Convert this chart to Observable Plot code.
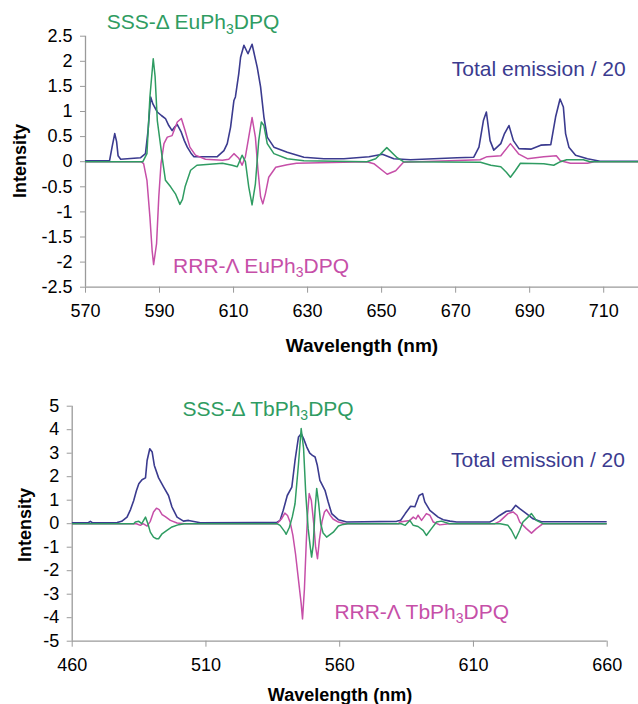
<!DOCTYPE html>
<html><head><meta charset="utf-8">
<script src="https://cdn.jsdelivr.net/npm/d3@7"></script>
<script src="https://cdn.jsdelivr.net/npm/@observablehq/plot@0.6"></script>
<style>
body{margin:0;background:#fff;font-family:"Liberation Sans",Arial,sans-serif;}
#chart{width:638px;height:704px;overflow:hidden}
svg{display:block}
</style></head><body><div id="chart"></div>
<script>
// ---------- Eu (top) ----------
const euXTicks = [570, 590, 610, 630, 650, 670, 690, 710];
const euYTicks = [2.5, 2, 1.5, 1, 0.5, 0, -0.5, -1, -1.5, -2, -2.5];
const euTotal = [[570,0.02],[576.5,0.02],[577.2,0.3],[577.9,0.56],[578.4,0.4],[578.8,0.12],[579.5,0.05],[584.9,0.08],[586.2,0.16],[586.9,0.62],[587.6,1.29],[588.2,1.15],[589.4,0.99],[590.5,0.92],[591.6,0.86],[592.5,0.72],[593.4,0.62],[594.2,0.7],[594.8,0.74],[595.8,0.6],[596.7,0.42],[597.5,0.29],[598.5,0.17],[599.3,0.1],[605.6,0.1],[607.4,0.22],[608.3,0.36],[609.2,0.69],[610.1,1.22],[610.5,1.29],[611.4,1.75],[611.9,2.08],[612.8,2.32],[613.9,2.15],[615.0,2.34],[616.4,1.88],[617.3,1.49],[618.2,0.89],[619.1,0.49],[620.9,0.29],[624.5,0.19],[629.0,0.09],[634.4,0.06],[639.8,0.06],[646.6,0.1],[650.2,0.15],[653.3,0.06],[657.8,0.04],[670.4,0.08],[674.9,0.09],[676.3,0.29],[677.5,0.82],[678.3,0.99],[679.3,0.42],[680.3,0.23],[682.2,0.36],[683.2,0.56],[684.4,0.72],[685.6,0.42],[687.1,0.26],[690.3,0.25],[693.0,0.33],[695.7,0.34],[697.0,0.89],[698.2,1.25],[699.1,1.09],[699.7,0.56],[700.6,0.29],[702.4,0.13],[705.6,0.06],[709,0.01],[720,0.01]];
const euSSS = [[570,0],[585.5,0],[586.6,0.16],[587.4,1.29],[588.3,2.05],[588.8,1.7],[589.4,0.82],[590.7,0.09],[591.6,-0.37],[593.0,-0.5],[594.3,-0.64],[595.5,-0.85],[596.2,-0.75],[596.9,-0.5],[598.4,-0.17],[600.1,-0.07],[607,-0.03],[609.6,-0.07],[611.0,-0.1],[612.3,0.13],[613.2,0.0],[614.1,-0.5],[615.0,-0.86],[615.9,-0.44],[616.8,0.42],[617.5,0.79],[618.2,0.72],[619.1,0.36],[620.9,0.16],[624.5,0.06],[629,0.02],[646,0.0],[648.4,0.06],[651.4,0.28],[654.2,0.08],[655.9,0],[676.7,-0.01],[679.5,-0.07],[682.2,-0.1],[683.7,-0.21],[684.8,-0.31],[686.1,-0.18],[687.5,-0.03],[693.8,-0.04],[696.5,-0.07],[698.3,0],[700,0.04],[704.5,0.04],[706.3,0],[720,0]];
const euRRR = [[570,0],[585.0,0],[585.7,-0.04],[586.6,-0.37],[587.4,-1.1],[588.0,-1.77],[588.4,-2.05],[589.2,-1.63],[589.8,-0.7],[590.4,-0.04],[591.2,0.36],[592.1,0.49],[593.4,0.52],[594.8,0.79],[595.9,0.86],[596.9,0.62],[598.2,0.29],[599.7,0.13],[602.4,0.05],[607,0.03],[608.7,0.05],[610.1,0.16],[611.4,0.07],[612.3,-0.07],[613.2,0.1],[614.1,0.49],[615.0,0.88],[615.9,0.49],[616.6,-0.17],[617.3,-0.7],[617.9,-0.84],[618.6,-0.64],[619.5,-0.31],[621.4,-0.11],[624.5,-0.06],[627,-0.03],[646,0],[647.9,-0.04],[651.5,-0.25],[653.8,-0.18],[655.9,-0.01],[676.6,0.04],[678.5,0.1],[682.2,0.12],[684.8,0.36],[687.1,0.15],[689.4,0.06],[693.8,0.1],[697.2,0.12],[698.3,0.02],[701,-0.03],[705.6,-0.03],[707.4,0],[720,0]];

// ---------- Tb (bottom) ----------
const tbXTicks = [460, 510, 560, 610, 660];
const tbYTicks = [5, 4, 3, 2, 1, 0, -1, -2, -3, -4, -5];
const tbTotal = [[460,0.04],[466.0,0.04],[466.8,0.1],[467.5,0.04],[476.8,0.05],[478.5,0.1],[480.5,0.28],[481.8,0.6],[483.0,0.99],[484.0,1.4],[484.9,1.7],[486.1,1.87],[487.4,1.95],[488.0,2.69],[489.0,3.19],[489.9,3.05],[490.7,2.48],[492.3,1.95],[494.2,1.56],[496.0,1.2],[497.3,0.71],[499.2,0.28],[501.6,0.11],[503.5,0.14],[507.9,0.04],[536.5,0.05],[537.7,0.14],[538.9,0.57],[540.4,1.2],[542.1,1.56],[543.3,2.69],[544.6,3.69],[545.6,3.83],[546.5,3.62],[547.7,3.26],[548.8,3.0],[549.8,2.91],[550.8,2.84],[551.6,2.5],[552.6,1.84],[554.5,1.42],[555.7,0.92],[557.0,0.43],[559.5,0.17],[562.6,0.07],[581.3,0.1],[582.8,0.15],[584.5,0.43],[586.5,0.74],[588.1,0.72],[589.7,1.2],[591.0,1.28],[591.8,0.93],[593.7,0.57],[596.8,0.28],[598.7,0.17],[601.2,0.11],[603.7,0.07],[616.1,0.07],[617.3,0.14],[619.8,0.35],[622.3,0.53],[624.2,0.55],[625.8,0.78],[627.3,0.64],[629.8,0.43],[632.3,0.21],[635.4,0.08],[644.7,0.08],[660,0.08]];
const tbSSS = [[460,0],[483,0],[483.6,0.07],[484.9,0.1],[486.0,0],[487.4,0.28],[488.3,0],[489.2,-0.36],[490.4,-0.57],[491.5,-0.64],[492.3,-0.64],[493.6,-0.43],[495.4,-0.28],[497.3,-0.14],[499.8,-0.04],[502,0],[536.5,0],[537.7,-0.07],[539.5,-0.35],[540.0,-0.45],[541.2,-0.15],[542.3,0.3],[543.3,0.85],[544.6,2.55],[545.6,4.05],[546.5,3.2],[547.3,1.3],[548.2,-0.2],[549.0,-1.0],[549.5,-1.42],[550.1,-0.9],[550.8,0.6],[551.4,1.5],[552.1,0.9],[552.9,0.0],[553.8,-0.4],[555.1,-0.57],[557.6,-0.36],[559.5,-0.1],[561.3,-0.03],[563,0],[583,0],[584.5,-0.07],[586.2,0.14],[587.5,-0.07],[589.3,-0.12],[591.2,-0.28],[592.4,-0.5],[594.3,-0.21],[596.2,0.07],[598,0.11],[601,0],[620,0],[622.9,-0.07],[624.2,-0.28],[625.8,-0.64],[627.3,-0.28],[628.5,0.07],[630.4,0.28],[631.7,0.43],[633.5,0.14],[636,0],[660,0]];
const tbRRR = [[460,0],[484,0],[485.5,-0.07],[486.5,0],[488.0,-0.1],[489.2,0.1],[490.4,0.5],[491.5,0.66],[492.5,0.6],[493.6,0.39],[494.8,0.3],[496.7,0.14],[499.2,0.03],[502,0],[536.5,0],[538.2,0.2],[539.5,0.45],[540.5,0.35],[541.5,0.05],[542.5,-0.5],[543.5,-1.3],[544.6,-2.4],[545.6,-3.4],[546.1,-4.05],[546.8,-2.8],[547.5,-0.8],[548.0,0.4],[548.6,1.28],[549.4,0.99],[550.3,0.0],[551.0,-1.0],[551.7,-1.49],[552.4,-0.7],[553.4,0.1],[554.3,0.5],[555.1,0.6],[556.5,0.35],[557.5,0.2],[559.5,0.07],[562,0],[582,0],[582.5,0.07],[586.2,0.14],[587.5,0.28],[588.5,0.2],[589.3,0.36],[590.6,0.14],[592.4,0.43],[593.7,0.36],[595,0.07],[597.4,-0.05],[601,0],[618,0],[619.8,0.1],[622.9,0.43],[624.8,0.5],[626.3,0.36],[627.3,0.07],[629.8,-0.21],[631.7,-0.4],[633.5,-0.21],[636,0],[660,0]];

const COLORS = {total: "#3b3b8f", sss: "#2f9c62", rrr: "#c64fa8"};
const AXIS = "#9a9a9a";
const FONT = "Liberation Sans, Arial, Helvetica, sans-serif";

function makePlot(cfg) {
  const plot = Plot.plot({
    width: 638, height: cfg.height,
    marginLeft: cfg.margins[0], marginRight: cfg.margins[1], marginTop: cfg.margins[2], marginBottom: cfg.margins[3],
    style: {fontFamily: FONT, fontSize: "18px", color: "#000", background: "#fff", overflow: "visible"},
    x: {domain: cfg.xDomain},
    y: {domain: cfg.yDomain},
    marks: [
      Plot.ruleX([cfg.xDomain[0]], {stroke: AXIS, strokeWidth: 1.3}),
      Plot.ruleY([cfg.yDomain[0]], {stroke: AXIS, strokeWidth: 1.3}),
      Plot.axisX({ticks: cfg.xTicks, tickSize: 6, tickPadding: 11, stroke: AXIS, fill: "#000", label: null, tickFormat: d => String(d), fontSize: 18}),
      Plot.axisY({ticks: cfg.yTicks, tickSize: 5, tickPadding: 8, stroke: AXIS, fill: "#000", label: null, tickFormat: d => String(d), fontSize: 18}),
      Plot.line(cfg.total, {x: d => d[0], y: d => d[1], stroke: COLORS.total, strokeWidth: 1.6, clip: true}),
      Plot.line(cfg.rrr, {x: d => d[0], y: d => d[1], stroke: COLORS.rrr, strokeWidth: 1.5, clip: true}),
      Plot.line(cfg.sss, {x: d => d[0], y: d => d[1], stroke: COLORS.sss, strokeWidth: 1.5, clip: true})
    ]
  });
  const svg = d3.select(plot);
  const sx = plot.scale("x"), sy = plot.scale("y");
  for (const lab of cfg.labels) {
    const t = svg.append("text")
      .attr("x", sx.apply(lab.x)).attr("y", sy.apply(lab.y))
      .attr("dy", "0.35em").attr("fill", lab.color).attr("text-anchor", "start")
      .attr("font-family", FONT).attr("font-size", 21);
    t.append("tspan").text(lab.parts[0]);
    if (lab.parts[1]) {
      t.append("tspan").attr("font-size", 14).attr("dy", "0.3em").text(lab.parts[1]);
      t.append("tspan").attr("dy", "-0.2em").text(lab.parts[2]);
    }
  }
  svg.append("text").attr("x", cfg.xTitle[0]).attr("y", cfg.xTitle[1])
    .attr("text-anchor", "middle").attr("dy", "0.35em")
    .attr("font-family", FONT).attr("font-weight", "bold").attr("font-size", cfg.xTitle[2])
    .text("Wavelength (nm)");
  svg.append("text").attr("transform", `translate(${cfg.yTitle[0]},${cfg.yTitle[1]}) rotate(-90)`)
    .attr("text-anchor", "middle").attr("dy", "0.35em")
    .attr("font-family", FONT).attr("font-weight", "bold").attr("font-size", 18)
    .text("Intensity");
  return plot;
}

const chart = document.getElementById("chart");
chart.append(makePlot({
  height: 370, margins: [85, 0, 35.7, 83.3],
  xDomain: [570, 719.4], xTicks: euXTicks,
  yDomain: [-2.5, 2.5], yTicks: euYTicks,
  total: euTotal, sss: euSSS, rrr: euRRR,
  labels: [
    {parts: ["SSS-\u0394 EuPh", "3", "DPQ"], x: 575.9, y: 2.77, color: COLORS.sss},
    {parts: ["Total emission / 20"], x: 669.1, y: 1.85, color: COLORS.total},
    {parts: ["RRR-\u039B EuPh", "3", "DPQ"], x: 593.8, y: -2.08, color: COLORS.rrr}
  ],
  xTitle: [362, 345, 19], yTitle: [20, 161]
}));
chart.append(makePlot({
  height: 334, margins: [71.7, 31.3, 35.7, 63.3],
  xDomain: [460, 660], xTicks: tbXTicks,
  yDomain: [-5, 5], yTicks: tbYTicks,
  total: tbTotal, sss: tbSSS, rrr: tbRRR,
  labels: [
    {parts: ["SSS-\u0394 TbPh", "3", "DPQ"], x: 501.4, y: 4.89, color: COLORS.sss},
    {parts: ["Total emission / 20"], x: 601.8, y: 2.69, color: COLORS.total},
    {parts: ["RRR-\u039B TbPh", "3", "DPQ"], x: 558.2, y: -3.76, color: COLORS.rrr}
  ],
  xTitle: [340, 325, 18], yTitle: [25, 155]
}));
</script></body></html>
